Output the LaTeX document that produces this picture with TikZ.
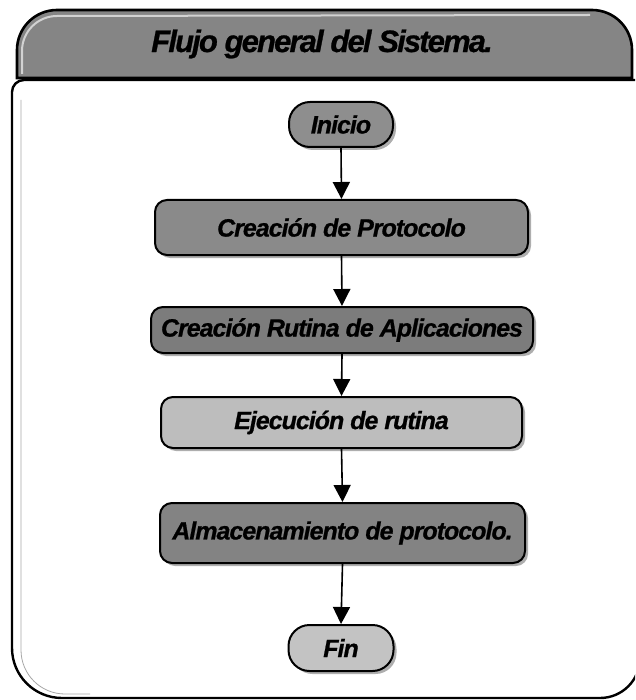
\documentclass[tikz,border=0pt]{standalone}
\usepackage{fontspec}
\setmainfont{Liberation Sans}
\newfontfamily\boxfont[LetterSpace=-4, BoldItalicFeatures={FakeBold=0.8}]{Liberation Sans}
\newfontfamily\titlefont[LetterSpace=-6, BoldItalicFeatures={FakeBold=0.8}]{Liberation Sans}
\usetikzlibrary{arrows.meta,shadows}
\definecolor{hdgray}{HTML}{858585}
\definecolor{gA}{HTML}{8E8E8E}
\definecolor{gB}{HTML}{8A8A8A}
\definecolor{gC}{HTML}{7C7C7C}
\definecolor{gD}{HTML}{BDBDBD}
\definecolor{gE}{HTML}{838383}
\definecolor{gF}{HTML}{C3C3C3}
\definecolor{shd}{HTML}{9A9A9A}
\tikzset{
  flowbox/.style={draw=black, line width=2pt, rounded corners=12pt,
    drop shadow={shadow xshift=3pt, shadow yshift=-3pt, fill=shd, opacity=0.8},
    inner sep=0pt, align=center,
    font=\boxfont\fontsize{25}{25}\selectfont\bfseries\itshape},
  capsule/.style={flowbox, rounded corners=21pt},
  flowarrow/.style={draw=black, line width=1.6pt, -{Triangle[width=17pt,length=17pt]}},
}
\begin{document}
\begin{tikzpicture}[x=1pt,y=-1pt]
\useasboundingbox (0,0) rectangle (635,700);
\clip (0,0) rectangle (635,700);
% main panel
\draw[line width=2.4pt] (640,80) -- (24,80) arc[start angle=270,end angle=180,radius=12] -- (12,648) arc[start angle=180,end angle=90,radius=50] -- (600,698) arc[start angle=90,end angle=0,radius=40] -- (640,658);
\draw[gray!70, line width=0.8pt] (21,100) -- (21,650) arc[start angle=180,end angle=90,radius=44] -- (90,694);
% header
\draw[fill=hdgray, line width=2.6pt] (17,78) -- (17,50) arc[start angle=180,end angle=270,radius=40] -- (592,10) arc[start angle=270,end angle=360,radius=40] -- (632,78) -- cycle;
\draw[gray!35, line width=2pt] (22,74) -- (22,51) arc[start angle=180,end angle=270,radius=35] -- (590,15);
\node (title) at (322,44) {\titlefont\fontsize{31}{31}\selectfont\bfseries\itshape Flujo general del Sistema.};
% nodes
\node[capsule, fill=gA, minimum width=104pt, minimum height=45pt] (inicio) at (341,124.5) {Inicio};
\node[flowbox, fill=gB, minimum width=373pt, minimum height=55pt] (proto) at (341.5,227.5) {Creación de Protocolo};
\node[flowbox, fill=gC, minimum width=382pt, minimum height=46pt] (rutina) at (342,330) {Creación Rutina de Aplicaciones};
\node[flowbox, fill=gD, minimum width=361pt, minimum height=51pt] (ejec) at (341.5,422.5) {Ejecución de rutina};
\node[flowbox, fill=gE, minimum width=365pt, minimum height=60pt] (alm) at (342.5,533) {Almacenamiento de protocolo.};
\node[capsule, fill=gF, minimum width=105pt, minimum height=46pt] (fin) at (341,648) {Fin};
% connectors
\draw[flowarrow] (inicio.south) -- (proto.north);
\draw[flowarrow] (proto.south) -- (rutina.north);
\draw[flowarrow] (rutina.south) -- (ejec.north);
\draw[flowarrow] (ejec.south) -- (alm.north);
\draw[flowarrow] (alm.south) -- (fin.north);
\end{tikzpicture}
\end{document}
